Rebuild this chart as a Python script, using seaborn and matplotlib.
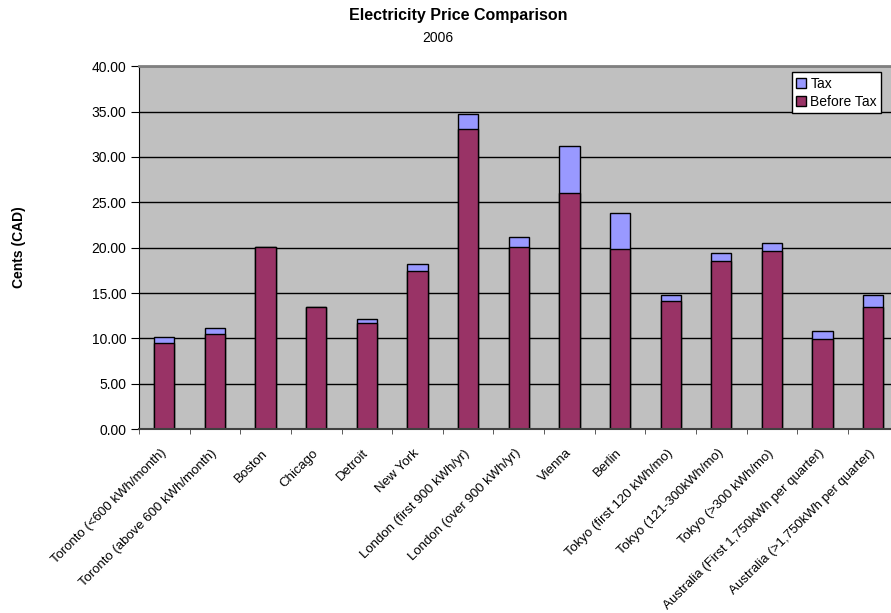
"""
Electricity price comparison 2006 - stacked bars (before tax + tax)
"""

import pandas as pd
import matplotlib.pyplot as plt
import seaborn as sns
import numpy as np

cities = [
    'Toronto (<600 kWh/month)', 'Toronto (above 600 kWh/month)', 'Boston',
    'Chicago', 'Detroit', 'New York', 'London (first 900 kWh/yr)',
    'London (over 900 kWh/yr)', 'Vienna', 'Berlin', 'Tokyo (first 120 kWh/mo)',
    'Tokyo (121-300kWh/mo)', 'Tokyo (>300 kWh/mo)',
    'Australia (First 1,750kWh per quarter)', 'Australia (>1,750kWh per quarter)'
]
before_tax = [9.50, 10.45, 20.10, 13.45, 11.65, 17.42, 33.04,
              20.10, 25.98, 19.84, 14.11, 18.49, 19.59, 9.89, 13.45]
tax = [0.68, 0.72, 0.00, 0.00, 0.51, 0.73, 1.66,
       1.03, 5.19, 4.01, 0.70, 0.91, 0.95, 0.95, 1.29]

yticks = np.arange(0, 40.01, 5)

df = pd.DataFrame({'City': cities, 'Before Tax': before_tax, 'Tax': tax})
df['Total'] = df['Before Tax'] + df['Tax']

plt.rcParams['font.family'] = ['Liberation Sans', 'DejaVu Sans']

fig = plt.figure(figsize=(8.91, 6.13), dpi=100)
# plot area runs slightly past the right edge of the image, as in the original
ax = fig.add_axes([0.156, 0.300, 0.8525, 0.592])
ax.set_facecolor('#C0C0C0')

# total first (tax colour), before-tax drawn over it
sns.barplot(data=df, x='City', y='Total', color='#9999FF', width=0.4,
            edgecolor='black', linewidth=1, saturation=1, ax=ax, label='Tax')
sns.barplot(data=df, x='City', y='Before Tax', color='#993366', width=0.4,
            edgecolor='black', linewidth=1, saturation=1, ax=ax, label='Before Tax')

ax.set_ylim(0, 40)
ax.set_xlim(-0.5, len(cities) - 0.5)
ax.set_yticks(yticks)
ax.set_yticklabels([f'{v:.2f}' for v in yticks], fontsize=10)
ax.yaxis.grid(True, color='black', linewidth=1)
ax.set_axisbelow(True)

ax.set_xticks(range(len(cities)))
ax.set_xticklabels(cities, rotation=45, ha='right', va='center',
                   rotation_mode='anchor', fontsize=9.5)
ax.tick_params(axis='x', length=0, pad=16)
ax.set_xticks(np.arange(-0.5, len(cities), 1), minor=True)
ax.tick_params(axis='x', which='minor', length=3.5, color='#404040')
ax.tick_params(axis='y', length=6, direction='out', pad=3)

ax.set_xlabel('')
ax.set_ylabel('')
fig.text(0.0208, 0.5975, 'Cents (CAD)', rotation=90, ha='center', va='center',
         fontsize=10, fontweight='bold')

ax.spines['top'].set_color('#808080')
ax.spines['top'].set_linewidth(2)
ax.spines['right'].set_visible(False)
ax.spines['bottom'].set_color('#404040')
ax.spines['bottom'].set_linewidth(1.5)
ax.spines['left'].set_color('black')

handles, labels = ax.get_legend_handles_labels()
leg = ax.legend(handles, labels, loc='upper right', bbox_to_anchor=(0.977, 0.983),
                borderaxespad=0, fontsize=10, frameon=True, fancybox=False,
                framealpha=1, edgecolor='black', handlelength=0.7,
                handleheight=0.7, handletextpad=0.3, borderpad=0.3,
                labelspacing=0.3)
leg.get_frame().set_linewidth(1)

fig.text(0.514, 0.974, 'Electricity Price Comparison', ha='center', va='center',
         fontsize=11.5, fontweight='bold')
fig.text(0.4916, 0.938, '2006', ha='center', va='center', fontsize=10)

plt.savefig('out.png', dpi=100)
plt.close()
